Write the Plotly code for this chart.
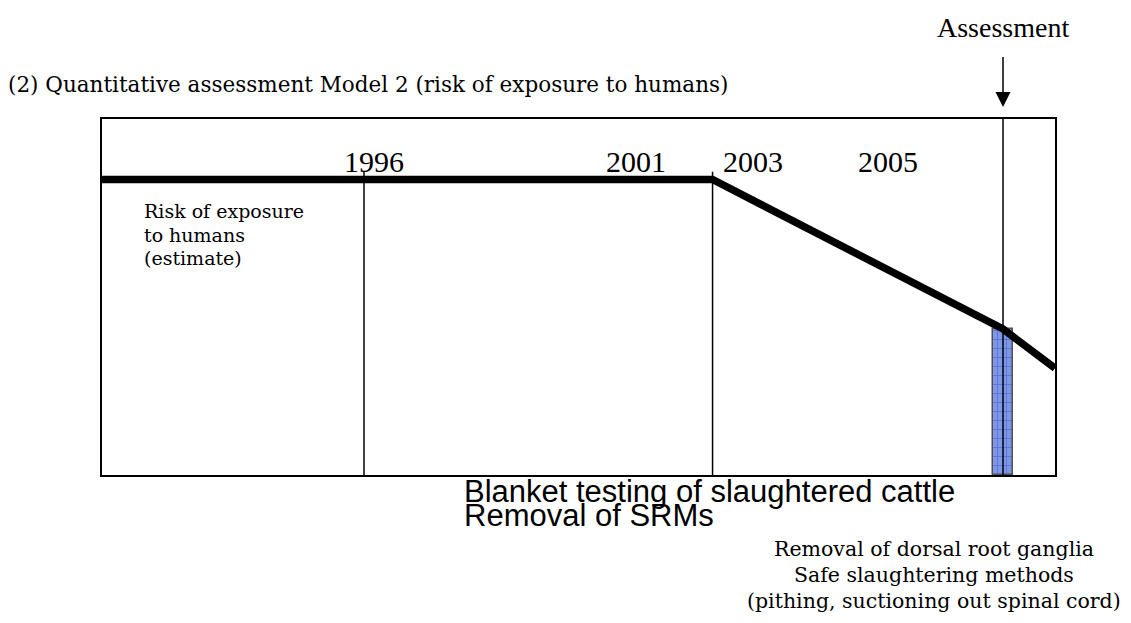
import plotly.graph_objects as go

# ---------------- data ----------------
x_range = [1991.49, 2007.895]          # timeline span of the box (years)
y_range = [0.0, 1.0]                   # relative risk scale

risk_x = [1991.49, 2002.0, 2007.0, 2007.895]
risk_y = [0.83, 0.83, 0.41, 0.30]

event_x = [1996.0, 2002.0]             # measures introduced
event_top = 0.852
assessment_x = 2007.0

year_labels = ["1996", "2001", "2003", "2005"]
year_label_x = [1996.17, 2000.68, 2002.70, 2005.02]
year_label_y = 0.88

bar_x = [2007.0]
bar_y = [0.41]
bar_w = [0.36]

title_text = "(2) Quantitative assessment Model 2 (risk of exposure to humans)"
risk_label = ["Risk of exposure", "to humans", "(estimate)"]
measure_2001 = ["Blanket testing of slaughtered cattle", "Removal of SRMs"]
measure_2007 = ["Removal of dorsal root ganglia", "Safe slaughtering methods",
                "(pithing, suctioning out spinal cord)"]

# ---------------- layout helpers ----------------
OFF = 8                     # page body margin of the html document
W, H = 1131 - OFF, 623 - OFF
L, R, T, B = 102 - OFF, 1055 - OFF, 119 - OFF, 475 - OFF


def px_x(px):
    return (px - OFF - L) / (R - L)


def px_y(py):
    return (B - (py - OFF)) / (B - T)


SERIF = "Liberation Serif, Times New Roman, serif"
WIDE_SERIF = "DejaVu Serif, serif"
SANS = "Liberation Sans, Arial, sans-serif"

fig = go.Figure()

# assessment vertical line
fig.add_trace(go.Scatter(x=[assessment_x, assessment_x], y=[y_range[0], y_range[1]],
                         mode="lines", line=dict(color="black", width=1.5),
                         hoverinfo="skip", showlegend=False))

# event vertical lines
vx, vy = [], []
for e in event_x:
    vx += [e, e, None]
    vy += [y_range[0], event_top, None]
fig.add_trace(go.Scatter(x=vx, y=vy, mode="lines", line=dict(color="black", width=1.5),
                         hoverinfo="skip", showlegend=False, cliponaxis=False))

# bar (measures at assessment)
fig.add_trace(go.Bar(x=bar_x, y=bar_y, width=bar_w,
                     marker=dict(color="#7d96e6",
                                 pattern=dict(shape="+", fgcolor="#1f3fd0", bgcolor="#7d96e6",
                                              size=9, solidity=0.15),
                                 line=dict(color="#505050", width=1.5)),
                     hoverinfo="skip", showlegend=False))

# risk line
fig.add_trace(go.Scatter(x=risk_x, y=risk_y, mode="lines",
                         line=dict(color="black", width=7.5),
                         hoverinfo="skip", showlegend=False, cliponaxis=False))

ann = []
# year labels
for t, xv in zip(year_labels, year_label_x):
    ann.append(dict(x=xv, y=year_label_y, xref="x", yref="y", text=t, showarrow=False,
                    xanchor="center", yanchor="middle",
                    font=dict(family=SERIF, size=30, color="black")))

# risk label
for i, t in enumerate(risk_label):
    ann.append(dict(x=px_x(142), y=px_y(211 + 23.5 * i), xref="paper", yref="paper", text=t,
                    showarrow=False, xanchor="left", yanchor="middle",
                    font=dict(family=WIDE_SERIF, size=19, color="black")))

# 2001 measures
for i, t in enumerate(measure_2001):
    ann.append(dict(x=px_x(462), y=px_y(491 + 24 * i), xref="paper", yref="paper", text=t,
                    showarrow=False, xanchor="left", yanchor="middle",
                    font=dict(family=SANS, size=31, color="black")))

# 2007 measures
for i, t in enumerate(measure_2007):
    ann.append(dict(x=px_x(934), y=px_y(549 + 26 * i), xref="paper", yref="paper", text=t,
                    showarrow=False, xanchor="center", yanchor="middle",
                    font=dict(family=WIDE_SERIF, size=20.5, color="black")))

# assessment arrow
ann.append(dict(x=assessment_x, xref="x", y=px_y(107), yref="paper",
                text="Assessment", showarrow=True, ax=0, ay=-79,
                arrowhead=2, arrowsize=2, arrowwidth=1.5, arrowcolor="black",
                startstandoff=12,
                font=dict(family=SERIF, size=28, color="black")))

fig.update_layout(
    width=W, height=H,
    margin=dict(l=L, r=W - R, t=T, b=H - B, pad=0),
    paper_bgcolor="white", plot_bgcolor="white",
    title=dict(text=title_text, x=0.0, xanchor="left", y=1 - (84 - OFF) / H, yanchor="middle",
               font=dict(family=WIDE_SERIF, size=21.5, color="black")),
    xaxis=dict(range=x_range, showgrid=False, zeroline=False, showticklabels=False,
               ticks="", showline=True, mirror=True, linecolor="black", linewidth=2),
    yaxis=dict(range=y_range, showgrid=False, zeroline=False, showticklabels=False,
               ticks="", showline=True, mirror=True, linecolor="black", linewidth=2),
    annotations=ann,
    bargap=0,
)

fig.write_html("out.html")
